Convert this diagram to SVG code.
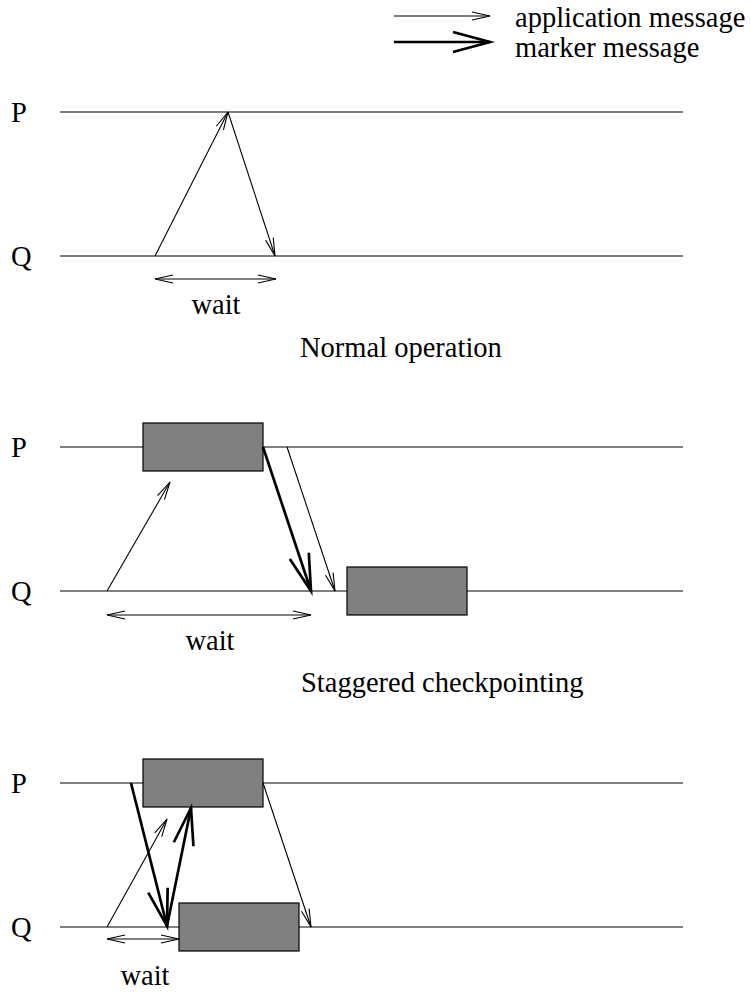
<svg xmlns="http://www.w3.org/2000/svg" width="751" height="994" viewBox="0 0 751 994">
<defs>
<style>
.t{font-family:'Liberation Serif','Times New Roman',Times,serif;font-size:28.5px;fill:#000}
.ln{stroke:#000;stroke-width:1.2;fill:none}
.app{stroke:#000;stroke-width:1.1;fill:none;marker-end:url(#ah)}
.mk{stroke:#000;stroke-width:2.7;fill:none;marker-end:url(#mh)}
.wt{stroke:#000;stroke-width:1.1;fill:none;marker-start:url(#ahs);marker-end:url(#ah)}
.box{fill:#808080;stroke:#000;stroke-width:1.2}
</style>
<marker id="ah" markerUnits="userSpaceOnUse" orient="auto" refX="0" refY="0" overflow="visible">
<path d="M-18,-4 L0,0 L-18,4" fill="none" stroke="#000" stroke-width="1.1"/>
</marker>
<marker id="ahs" markerUnits="userSpaceOnUse" orient="auto-start-reverse" refX="0" refY="0" overflow="visible">
<path d="M-18,-4 L0,0 L-18,4" fill="none" stroke="#000" stroke-width="1.1"/>
</marker>
<marker id="mh" markerUnits="userSpaceOnUse" orient="auto" refX="0" refY="0" overflow="visible">
<path d="M-37,-10 L0,0 L-37,10" fill="none" stroke="#000" stroke-width="2.7"/>
</marker>
</defs>
<rect width="751" height="994" fill="#fff"/>
<g id="legend">
<line class="app" x1="394" y1="16" x2="490" y2="16"/>
<text class="t" x="515" y="27" font-size="28">application message</text>
<line class="mk" x1="394" y1="42" x2="490" y2="42"/>
<text class="t" x="515" y="57" font-size="28">marker message</text>
</g>
<g id="panel1">
<g id="p1-P"><line class="ln" x1="60" y1="112" x2="683" y2="112"/><text class="t" x="11" y="122">P</text></g>
<g id="p1-Q"><line class="ln" x1="60" y1="256" x2="683" y2="256"/><text class="t" x="11" y="266">Q</text></g>
<text class="t" x="216" y="314" text-anchor="middle">wait</text>
<text class="t" x="300" y="357">Normal operation</text>
</g>
<g id="panel2">
<g id="p2-P"><line class="ln" x1="60" y1="447" x2="683" y2="447"/><text class="t" x="11" y="457">P</text></g>
<g id="p2-Q"><line class="ln" x1="60" y1="591" x2="683" y2="591"/><text class="t" x="11" y="601">Q</text></g>
<rect id="p2-ckptP" class="box" x="143" y="423" width="120" height="48"/>
<rect id="p2-ckptQ" class="box" x="347" y="567" width="120" height="48"/>
<text class="t" x="210" y="650" text-anchor="middle">wait</text>
<text class="t" x="301" y="692">Staggered checkpointing</text>
</g>
<g id="panel3">
<g id="p3-P"><line class="ln" x1="60" y1="783" x2="683" y2="783"/><text class="t" x="11" y="793">P</text></g>
<g id="p3-Q"><line class="ln" x1="60" y1="927" x2="683" y2="927"/><text class="t" x="11" y="937">Q</text></g>
<rect id="p3-ckptP" class="box" x="143" y="759" width="120" height="48"/>
<rect id="p3-ckptQ" class="box" x="179" y="903" width="120" height="48"/>
<text class="t" x="145" y="985" text-anchor="middle">wait</text>
</g>
<g id="connectors">
<line class="app" x1="155" y1="256" x2="228" y2="112"/>
<line class="app" x1="228" y1="112" x2="275" y2="256"/>
<line class="wt" x1="155" y1="279" x2="276" y2="279"/>
<line class="app" x1="107" y1="591" x2="170" y2="482"/>
<line class="mk" x1="263" y1="447" x2="311" y2="591"/>
<line class="app" x1="287" y1="447" x2="335" y2="591"/>
<line class="wt" x1="107" y1="615" x2="311" y2="615"/>
<line class="app" x1="107" y1="927" x2="167" y2="819"/>
<line class="mk" x1="131" y1="783" x2="167" y2="926"/>
<line class="mk" x1="167" y1="926" x2="191" y2="808"/>
<line class="app" x1="263" y1="783" x2="311" y2="927"/>
<line class="wt" x1="107" y1="939" x2="179" y2="939"/>
</g>
</svg>
